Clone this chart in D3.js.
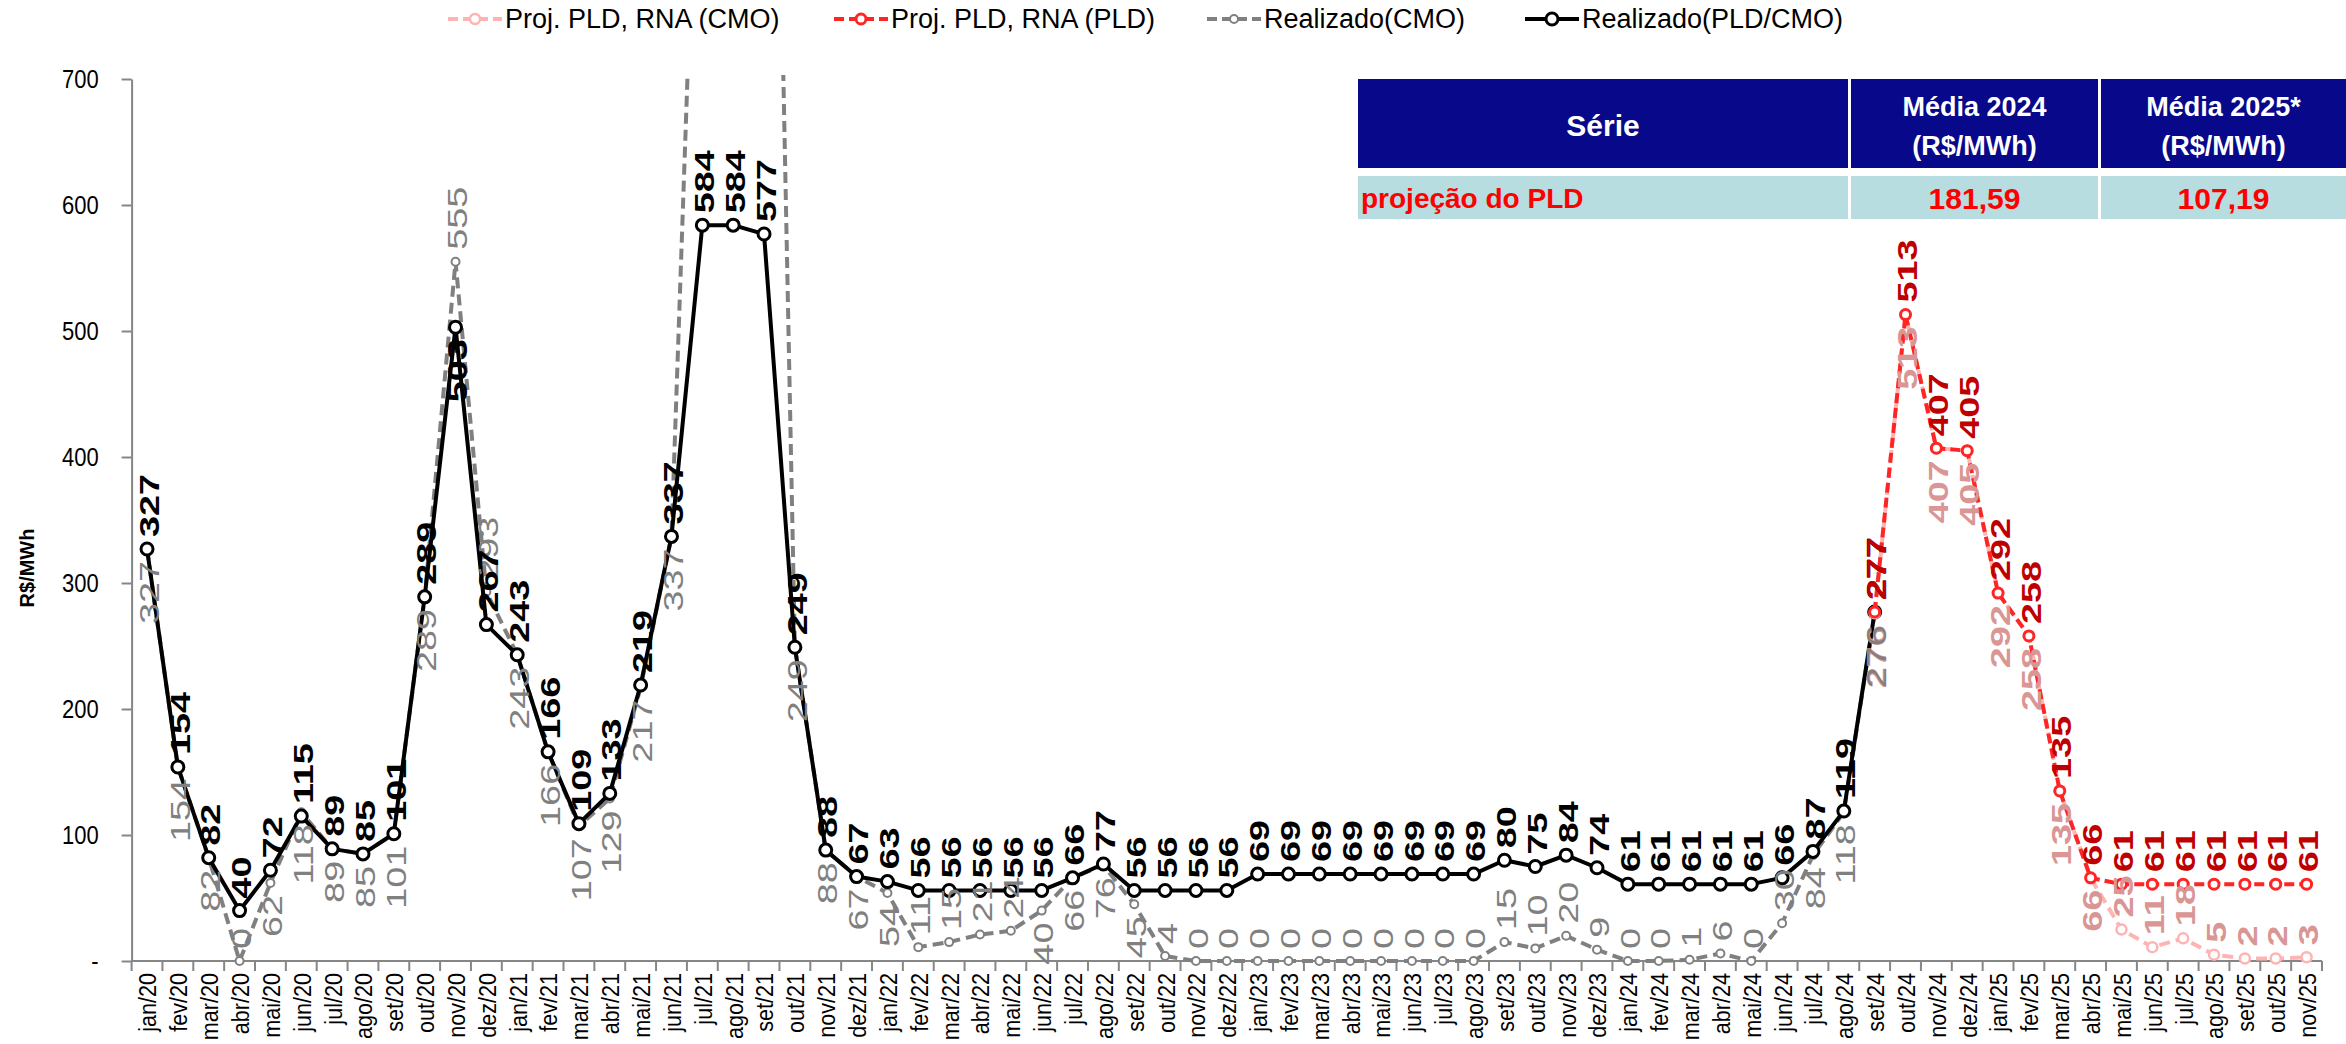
<!DOCTYPE html>
<html><head><meta charset="utf-8">
<script src="https://cdn.jsdelivr.net/npm/d3@7"></script>
<style>
body{margin:0;background:#fff;}
svg{display:block;font-family:"Liberation Sans",Arial,sans-serif;}
</style>
</head><body>
<svg id="c" width="2346" height="1044"></svg>
<script>
// ---------- DATA ----------
const months = [
 "jan/20","fev/20","mar/20","abr/20","mai/20","jun/20","jul/20","ago/20","set/20","out/20","nov/20","dez/20",
 "jan/21","fev/21","mar/21","abr/21","mai/21","jun/21","jul/21","ago/21","set/21","out/21","nov/21","dez/21",
 "jan/22","fev/22","mar/22","abr/22","mai/22","jun/22","jul/22","ago/22","set/22","out/22","nov/22","dez/22",
 "jan/23","fev/23","mar/23","abr/23","mai/23","jun/23","jul/23","ago/23","set/23","out/23","nov/23","dez/23",
 "jan/24","fev/24","mar/24","abr/24","mai/24","jun/24","jul/24","ago/24","set/24","out/24","nov/24","dez/24",
 "jan/25","fev/25","mar/25","abr/25","mai/25","jun/25","jul/25","ago/25","set/25","out/25","nov/25"
];
// Realizado(PLD/CMO): jan/20 .. set/24
const realPLD = [
 327,154,82,40,72,115,89,85,101,289,503,267,
 243,166,109,133,219,337,584,584,577,249,88,67,
 63,56,56,56,56,56,66,77,56,56,56,56,
 69,69,69,69,69,69,69,69,80,75,84,74,
 61,61,61,61,61,66,87,119,277
];
// Realizado(CMO): jan/20 .. set/24 (jul-set/21 beyond the 700 axis limit)
const realCMO = [
 327,154,82,0,62,118,89,85,101,289,555,293,
 243,166,107,129,217,337,1040,1250,1460,249,88,67,
 54,11,15,21,24,40,66,76,45,4,0,0,
 0,0,0,0,0,0,0,0,15,10,20,9,
 0,0,1,6,0,30,84,118,276
];
// Projections: set/24 .. nov/25
const projStart = "set/24";
const projPLD = [277,513,407,405,292,258,135,66,61,61,61,61,61,61,61];
const projCMO = [276,513,407,405,292,258,135,66,25,11,18,5,2,2,3];
const yTicks = [0,100,200,300,400,500,600,700];
const legendLabels = ["Proj. PLD, RNA (CMO)","Proj. PLD, RNA (PLD)","Realizado(CMO)","Realizado(PLD/CMO)"];
const tableHeader = ["Série",["Média 2024","(R$/MWh)"],["Média 2025*","(R$/MWh)"]];
const tableRow = ["projeção do PLD","181,59","107,19"];

// ---------- LAYOUT ----------
const svg = d3.select("#c");
const L = 131.6, R = 2322, T = 79, B = 961;
const x = d3.scaleBand().domain(months).range([L, R]).padding(0);
const y = d3.scaleLinear().domain([0, 700]).range([B, T]);
const cx = m => x(m) + x.bandwidth() / 2;
const axisCol = "#868686";

const pts = (vals, start) => {
  const s = months.indexOf(start);
  return vals.map((v, i) => ({ m: months[s + i], v }));
};
const sPLD = pts(realPLD, "jan/20");
const sCMO = pts(realCMO, "jan/20");
const sPPLD = pts(projPLD, projStart);
const sPCMO = pts(projCMO, projStart);

svg.append("defs").append("clipPath").attr("id", "clip")
  .append("rect").attr("x", 0).attr("y", T - 4).attr("width", 2346).attr("height", 1044);

// ---------- AXES ----------
const yAx = svg.append("g").attr("transform", `translate(${L},0)`)
  .call(d3.axisLeft(y).tickValues(yTicks).tickSize(10).tickSizeOuter(0).tickPadding(23)
    .tickFormat(d => d === 0 ? "-" : d));
yAx.select(".domain").attr("stroke", axisCol).attr("stroke-width", 2);
yAx.selectAll(".tick line").attr("stroke", axisCol).attr("stroke-width", 2);
yAx.selectAll(".tick text").attr("font-size", 22).attr("fill", "#000")
  .attr("font-family", "Liberation Sans, Arial, sans-serif")
  .attr("dy", "0.35em").attr("transform", "scale(1,1.15)");

const xAx = svg.append("g");
xAx.append("line").attr("x1", L).attr("x2", R).attr("y1", B).attr("y2", B)
  .attr("stroke", axisCol).attr("stroke-width", 2);
xAx.selectAll("line.tk").data(months.concat(["__end"])).join("line").attr("class", "tk")
  .attr("x1", d => d === "__end" ? R : x(d)).attr("x2", d => d === "__end" ? R : x(d))
  .attr("y1", B).attr("y2", B + 10).attr("stroke", axisCol).attr("stroke-width", 2);
xAx.selectAll("text.xl").data(months).join("text").attr("class", "xl")
  .attr("transform", d => `translate(${cx(d) + 1},${B + 12}) rotate(-90) scale(0.9,1)`)
  .attr("text-anchor", "end").attr("dominant-baseline", "central")
  .attr("font-size", 24).attr("fill", "#000").text(d => d);

svg.append("text").attr("transform", `translate(27,568) rotate(-90)`)
  .attr("text-anchor", "middle").attr("dominant-baseline", "central")
  .attr("font-size", 20).attr("font-weight", "bold").text("R$/MWh");

// ---------- SERIES ----------
const line = d3.line().x(d => cx(d.m)).y(d => y(d.v));
const plot = svg.append("g").attr("clip-path", "url(#clip)");

function drawSeries(data, st) {
  plot.append("path").datum(data).attr("d", line).attr("fill", "none")
    .attr("stroke", st.color).attr("stroke-width", st.w)
    .attr("stroke-dasharray", st.dash || null).attr("stroke-linejoin", "round");
  plot.append("g").selectAll("circle").data(data.filter(d => d.v <= 700)).join("circle")
    .attr("cx", d => cx(d.m)).attr("cy", d => y(d.v)).attr("r", st.r)
    .attr("fill", "#fff").attr("stroke", st.mcolor || st.color).attr("stroke-width", st.mw);
}
const stGray = { color: "#808080", w: 4, dash: "11,6", r: 4, mw: 2 };
const stBlack = { color: "#000", w: 4, r: 6, mw: 3 };
const stPink = { color: "#ffb3b3", w: 4, dash: "11,6", r: 5, mw: 2.5 };
const stRed = { color: "#ff2525", w: 4, dash: "10,5", r: 5, mw: 3 };
drawSeries(sCMO, stGray);
drawSeries(sPLD, stBlack);
drawSeries(sPCMO, stPink);
drawSeries(sPPLD, stRed);

// ---------- DATA LABELS ----------
const SX = 1.35, GAP = 12, FS = 28;
function labels(data, o) {
  const g = svg.append("g");
  data.forEach(d => {
    if (d.v > 700) return;
    const px = cx(d.m) + 2, py = y(d.v);
    const t = g.append("text").text(d.v)
      .attr("font-size", FS).attr("font-weight", o.bold ? "bold" : "normal")
      .attr("fill", o.color).attr("dominant-baseline", "central");
    const len = t.node().getComputedTextLength() * SX;
    let pos = o.pos;
    if ((o.flip || []).includes(d.m)) pos = pos === "above" ? "below" : "above";
    if (pos === "below" && py + GAP + len > B + 4) pos = "above";
    if (pos === "above") {
      t.attr("text-anchor", "start")
       .attr("transform", `translate(${px},${py - GAP}) rotate(-90) scale(${SX},1)`);
    } else {
      t.attr("text-anchor", "end")
       .attr("transform", `translate(${px},${py + GAP}) rotate(-90) scale(${SX},1)`);
    }
  });
}
labels(sPCMO, { color: "#d99694", bold: true, pos: "below" });
labels(sCMO, { color: "#808080", bold: false, pos: "below", flip: ["nov/20", "dez/20"] });
labels(sPLD, { color: "#000", bold: true, pos: "above", flip: ["nov/20"] });
labels(sPPLD, { color: "#c00000", bold: true, pos: "above" });

// ---------- LEGEND ----------
const legItems = [
  { st: stPink, x: 448 }, { st: stRed, x: 834 }, { st: stGray, x: 1207 }, { st: stBlack, x: 1525 }
];
const lg = svg.append("g");
legItems.forEach((it, i) => {
  const ly = 19;
  lg.append("line").attr("x1", it.x).attr("x2", it.x + 54).attr("y1", ly).attr("y2", ly)
    .attr("stroke", it.st.color).attr("stroke-width", it.st.w)
    .attr("stroke-dasharray", it.st.dash ? "10,5" : null);
  lg.append("circle").attr("cx", it.x + 27).attr("cy", ly).attr("r", it.st.r)
    .attr("fill", "#fff").attr("stroke", it.st.color).attr("stroke-width", it.st.mw);
  lg.append("text").attr("x", it.x + 57).attr("y", ly).attr("dominant-baseline", "central")
    .attr("font-size", 27).attr("fill", "#000").text(legendLabels[i]);
});

// ---------- TABLE ----------
const cols = [[1358, 1848], [1851, 2098], [2101, 2346]];
const tb = svg.append("g");
cols.forEach((c, i) => {
  tb.append("rect").attr("x", c[0]).attr("y", 79).attr("width", c[1] - c[0]).attr("height", 89).attr("fill", "#08088a");
  tb.append("rect").attr("x", c[0]).attr("y", 176).attr("width", c[1] - c[0]).attr("height", 43).attr("fill", "#b7dde1");
  const h = tableHeader[i];
  const mid = (c[0] + c[1]) / 2;
  if (typeof h === "string") {
    tb.append("text").attr("x", mid).attr("y", 125).attr("text-anchor", "middle").attr("dominant-baseline", "central")
      .attr("font-size", 30).attr("font-weight", "bold").attr("fill", "#fff").text(h);
  } else {
    h.forEach((s, k) => tb.append("text").attr("x", mid).attr("y", 107 + k * 39).attr("text-anchor", "middle")
      .attr("dominant-baseline", "central").attr("font-size", 27).attr("font-weight", "bold").attr("fill", "#fff").text(s));
  }
  tb.append("text").attr("x", i === 0 ? 1361 : mid).attr("y", 198)
    .attr("text-anchor", i === 0 ? "start" : "middle").attr("dominant-baseline", "central")
    .attr("font-size", i === 0 ? 28 : 30).attr("font-weight", "bold").attr("fill", "#ff0000").text(tableRow[i]);
});
</script>
</body></html>
